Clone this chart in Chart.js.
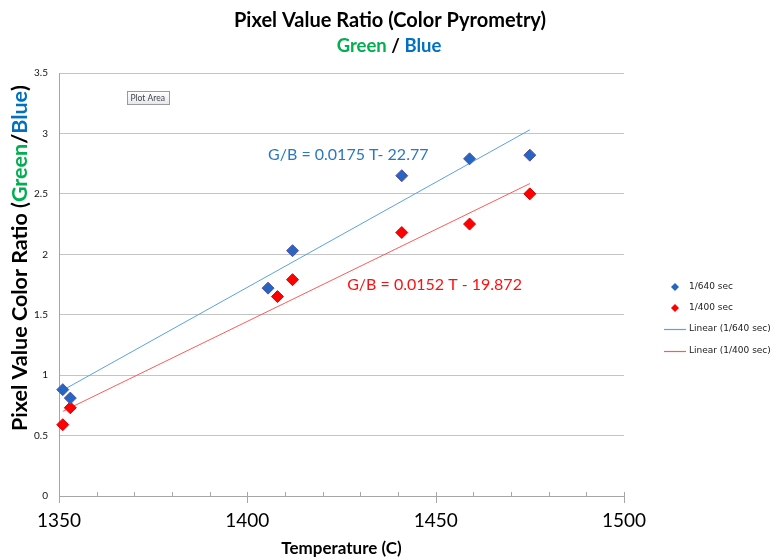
<!DOCTYPE html>
<html>
<head>
<meta charset="utf-8">
<script src="https://cdn.jsdelivr.net/npm/chart.js@4"></script>
<style>
  html, body { margin: 0; padding: 0; background: #fff; }
  #wrap { width: 773px; height: 560px; }
</style>
</head>
<body>
<div id="wrap"><canvas id="chart" width="773" height="560"></canvas></div>
<script>
"use strict";

// ? DATA
// ! ========================== ! \\
const temps640 = [1351, 1353, 1405.5, 1412, 1441, 1459, 1475];
const ratio640 = [0.88, 0.81, 1.72, 2.03, 2.65, 2.79, 2.82];
const temps400 = [1351, 1353, 1408, 1412, 1441, 1459, 1475];
const ratio400 = [0.59, 0.73, 1.65, 1.79, 2.18, 2.25, 2.5];

// trend line end points
const trendTemps = [1351, 1475];
const trend640 = [0.875, 3.03];
const trend400 = [0.70, 2.585];

const seriesLabels = ["1/640 sec", "1/400 sec", "Linear (1/640 sec)", "Linear (1/400 sec)"];
const eqLabels = ["G/B = 0.0175 T- 22.77", "G/B = 0.0152 T - 19.872"];
const xTicks = [1350, 1400, 1450, 1500];

const GREEN = "#00b050";
const BLUE = "#0070c0";
const ptBlue = "#2566c2";
const ptRed = "#ff0000";
const lineBlue = "#5aa2e0";
const lineRed = "#ff5a5a";

const toXY = (xs, ys) => xs.map((x, i) => ({ x: x, y: ys[i] }));

// draw a row of coloured text pieces centred on (cx, cy)
function drawPieces(ctx, pieces, cx, cy) {
  const total = pieces.reduce((s, p) => s + ctx.measureText(p[0]).width, 0);
  let x = cx - total / 2;
  ctx.textAlign = "left";
  ctx.textBaseline = "middle";
  pieces.forEach((p) => {
    ctx.fillStyle = p[1];
    ctx.fillText(p[0], x, cy);
    x += ctx.measureText(p[0]).width;
  });
}

function diamond(ctx, x, y, r, fill) {
  ctx.beginPath();
  ctx.moveTo(x, y - r);
  ctx.lineTo(x + r, y);
  ctx.lineTo(x, y + r);
  ctx.lineTo(x - r, y);
  ctx.closePath();
  ctx.fillStyle = fill;
  ctx.fill();
}

const decorPlugin = {
  id: "decor",
  afterDraw: (chart) => {
    const { ctx, chartArea } = chart;
    const xs = chart.scales.x;
    const ys = chart.scales.y;
    ctx.save();

    // ** titles
    ctx.font = "bold 20px Lato";
    drawPieces(ctx, [["Pixel Value Ratio (Color Pyrometry)", "#000"]], 390, 21);
    ctx.font = "bold 18.5px Lato";
    drawPieces(ctx, [["Green", GREEN], [" / ", "#000"], ["Blue", BLUE]], 389, 46);

    // ** y axis title
    ctx.save();
    ctx.translate(20, 258);
    ctx.rotate(-Math.PI / 2);
    ctx.font = "bold 21.5px Lato";
    drawPieces(ctx, [["Pixel Value Color Ratio (", "#000"], ["Green", GREEN], ["/", "#000"], ["Blue", BLUE], [")", "#000"]], 0, 0);
    ctx.restore();

    // ** x axis title
    ctx.font = "bold 17px Lato";
    drawPieces(ctx, [["Temperature (C)", "#000"]], (chartArea.left + chartArea.right) / 2, 549);

    // ** minor / major tick marks on x axis
    ctx.strokeStyle = "#a6a6a6";
    ctx.lineWidth = 1;
    for (let v = xs.min; v <= xs.max; v += 10) {
      const px = Math.round(xs.getPixelForValue(v)) + 0.5;
      ctx.beginPath();
      ctx.moveTo(px, chartArea.bottom - 4);
      ctx.lineTo(px, chartArea.bottom + (v % 50 === 0 ? 7 : 0));
      ctx.stroke();
    }

    // ** equations
    ctx.font = "16px Lato";
    ctx.textAlign = "left";
    ctx.textBaseline = "middle";
    ctx.fillStyle = "#2a78c2";
    ctx.fillText(eqLabels[0], xs.getPixelForValue(1405.5), ys.getPixelForValue(2.82));
    ctx.fillStyle = "#ff1010";
    ctx.fillText(eqLabels[1], xs.getPixelForValue(1426.5), ys.getPixelForValue(1.745));

    // ** "Plot Area" hint box
    const bx = Math.round(xs.getPixelForValue(1368)) + 0.5;
    const by = Math.round(ys.getPixelForValue(3.35)) + 0.5;
    const grad = ctx.createLinearGradient(0, by, 0, by + 13);
    grad.addColorStop(0, "#ffffff");
    grad.addColorStop(1, "#e4e8ee");
    ctx.fillStyle = grad;
    ctx.fillRect(bx, by, 42, 13);
    ctx.strokeStyle = "#9a9a9a";
    ctx.strokeRect(bx, by, 42, 13);
    ctx.font = "8.5px Lato";
    ctx.fillStyle = "#444";
    ctx.fillText("Plot Area", bx + 3, by + 7);

    // ** legend
    const lx = chartArea.right + 40;
    const items = [
      { y: 287, type: "pt", color: ptBlue },
      { y: 308, type: "pt", color: ptRed },
      { y: 329, type: "ln", color: lineBlue },
      { y: 351, type: "ln", color: lineRed },
    ];
    ctx.font = "9px 'DejaVu Sans'";
    items.forEach((it, i) => {
      if (it.type === "pt") {
        diamond(ctx, lx + 11, it.y, 4, it.color);
      } else {
        ctx.strokeStyle = it.color;
        ctx.lineWidth = 1.2;
        ctx.beginPath();
        ctx.moveTo(lx, it.y + 0.5);
        ctx.lineTo(lx + 22, it.y + 0.5);
        ctx.stroke();
      }
      ctx.fillStyle = "#222";
      ctx.fillText(seriesLabels[i], lx + 25, it.y);
    });

    ctx.restore();
  },
};

const config = {
  type: "scatter",
  data: {
    datasets: [
      {
        label: seriesLabels[0],
        data: toXY(temps640, ratio640),
        pointStyle: "rectRot",
        pointRadius: 6,
        backgroundColor: ptBlue,
        borderColor: "#5b4fa6",
        borderWidth: 1,
        clip: false,
        order: 1,
      },
      {
        label: seriesLabels[1],
        data: toXY(temps400, ratio400),
        pointStyle: "rectRot",
        pointRadius: 6,
        backgroundColor: ptRed,
        borderColor: "#e00000",
        borderWidth: 1,
        clip: false,
        order: 1,
      },
      {
        label: seriesLabels[2],
        data: toXY(trendTemps, trend640),
        showLine: true,
        pointRadius: 0,
        borderColor: lineBlue,
        borderWidth: 1,
        order: 2,
      },
      {
        label: seriesLabels[3],
        data: toXY(trendTemps, trend400),
        showLine: true,
        pointRadius: 0,
        borderColor: lineRed,
        borderWidth: 1,
        order: 2,
      },
    ],
  },
  options: {
    responsive: false,
    animation: false,
    layout: { padding: { top: 73, right: 149, bottom: 0, left: 0 } },
    plugins: {
      legend: { display: false },
      tooltip: { enabled: false },
      title: { display: false },
    },
    scales: {
      x: {
        type: "linear",
        min: 1350,
        max: 1500,
        afterBuildTicks: (scale) => {
          scale.ticks = xTicks.map((v) => ({ value: v }));
        },
        afterFit: (scale) => {
          scale.height = 64;
        },
        ticks: {
          font: { family: "Lato", size: 19 },
          color: "#000",
          padding: 13,
          maxRotation: 0,
          callback: (v) => String(v),
        },
        grid: { display: false, drawTicks: false },
        border: { display: true, color: "#a6a6a6" },
      },
      y: {
        min: 0,
        max: 3.5,
        afterFit: (scale) => {
          scale.width = 59;
        },
        ticks: {
          stepSize: 0.5,
          font: { family: "Lato", size: 10 },
          color: "#111",
          padding: 11,
          callback: (v) => String(v),
        },
        grid: { color: "#c4c4c4", drawTicks: false },
        border: { display: true, color: "#a6a6a6" },
      },
    },
  },
  plugins: [decorPlugin],
};

const ctx = document.getElementById("chart").getContext("2d");
const chart = new Chart(ctx, config);
</script>
</body>
</html>
